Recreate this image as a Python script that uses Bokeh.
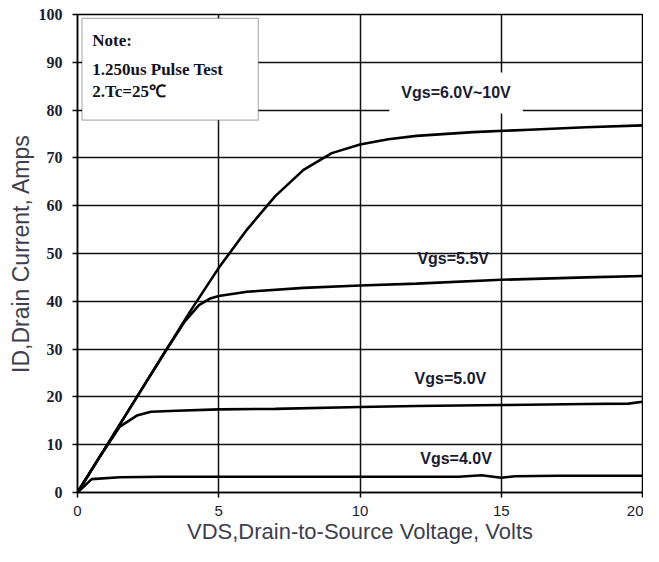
from bokeh.plotting import figure
from bokeh.models import Label, FixedTicker, BoxAnnotation
from bokeh.embed import file_html
from bokeh.resources import INLINE

# ---- data ----
vds_hi = [0, 1, 2, 3, 4, 5, 6, 7, 8, 9, 10, 11, 12, 14, 16, 18, 20]
id_hi = [0, 9.5, 19, 28.5, 38, 47, 55, 62, 67.5, 71, 72.8, 73.9, 74.6, 75.4, 75.9, 76.4, 76.8]

vds_55 = [0, 1, 2, 3, 3.8, 4.3, 4.7, 5, 6, 8, 10, 12, 15, 18, 20]
id_55 = [0, 9.5, 19, 28.5, 35.8, 39.2, 40.6, 41.1, 42, 42.8, 43.3, 43.7, 44.5, 45, 45.3]

vds_50 = [0, 0.8, 1.5, 2.1, 2.6, 3.5, 5, 7, 10, 12, 15, 18, 19.5, 20]
id_50 = [0, 7.6, 13.8, 16.1, 16.9, 17.1, 17.4, 17.5, 17.9, 18.1, 18.3, 18.5, 18.6, 19]

vds_40 = [0, 0.5, 1.5, 3, 5, 10, 13.5, 14.3, 15, 15.5, 17, 20]
id_40 = [0, 2.8, 3.2, 3.3, 3.3, 3.3, 3.3, 3.6, 3.1, 3.4, 3.5, 3.5]

curve_x = [vds_hi, vds_55, vds_50, vds_40]
curve_y = [id_hi, id_55, id_50, id_40]

curve_labels = ["Vgs=6.0V~10V", "Vgs=5.5V", "Vgs=5.0V", "Vgs=4.0V"]
label_x = [13.4, 13.3, 13.2, 13.4]
label_y = [83.6, 49.0, 23.9, 7.1]

x_ticks = [0, 5, 10, 15, 20]
y_ticks = [0, 10, 20, 30, 40, 50, 60, 70, 80, 90, 100]

note_lines = ["Note:", "1.250us Pulse Test", "2.Tc=25\u2103"]
note_y = [94.5, 88.5, 83.9]

# ---- figure ----
p = figure(width=643, height=546, x_range=(0, 20), y_range=(0, 100),
           output_backend="svg", toolbar_location=None,
           min_border_left=77, min_border_right=1, min_border_top=14, min_border_bottom=50)
p.outline_line_color = "black"
p.outline_line_width = 1.5

p.xaxis.ticker = FixedTicker(ticks=x_ticks)
p.yaxis.ticker = FixedTicker(ticks=y_ticks)
p.xgrid.ticker = FixedTicker(ticks=x_ticks)
p.ygrid.ticker = FixedTicker(ticks=y_ticks)
for g in (p.xgrid, p.ygrid):
    g.grid_line_color = "#111111"
    g.grid_line_width = 1.5
    g.grid_line_alpha = 1.0

for ax in (p.xaxis, p.yaxis):
    ax.axis_line_color = "black"
    ax.axis_line_width = 1.5
    ax.major_tick_line_color = "black"
    ax.major_tick_line_width = 1.5
    ax.major_tick_out = 5
    ax.major_tick_in = 0
    ax.minor_tick_line_color = None
    ax.axis_label_text_font = "Liberation Sans"
    ax.axis_label_text_font_style = "normal"
    ax.axis_label_text_color = "#3e3e4e"

p.xaxis.axis_label = "VDS,Drain-to-Source Voltage, Volts"
p.yaxis.axis_label = "ID,Drain Current, Amps"
p.xaxis.axis_label_text_font_size = "22px"
p.yaxis.axis_label_text_font_size = "23px"
p.xaxis.major_label_text_font = "Liberation Sans"
p.xaxis.major_label_text_font_size = "15px"
p.xaxis.major_label_text_color = "#1c1c30"
p.xaxis.major_label_standoff = 8
p.xaxis.axis_label_standoff = 0
p.yaxis.major_label_text_font = "Liberation Serif"
p.yaxis.major_label_text_font_style = "bold"
p.yaxis.major_label_text_font_size = "16px"
p.yaxis.major_label_text_color = "#1c1c30"
p.yaxis.major_label_standoff = 10
p.yaxis.axis_label_standoff = 2

# note box
p.add_layout(BoxAnnotation(left=0.16, right=6.4, bottom=77.9, top=99.2,
                           fill_color="white", fill_alpha=1.0,
                           line_color="black", line_width=1.2, level="annotation"))
for t, yy in zip(note_lines, note_y):
    p.add_layout(Label(x=0.52, y=yy, text=t, text_font="Liberation Serif",
                       text_font_style="bold", text_font_size="17px",
                       text_color="#111122", text_baseline="middle", level="overlay"))

# curves
for xs, ys in zip(curve_x, curve_y):
    p.line(xs, ys, line_color="black", line_width=2.6)

# curve labels
for i, (t, xx, yy) in enumerate(zip(curve_labels, label_x, label_y)):
    lab = Label(x=xx, y=yy, text=t, text_font="Liberation Sans",
                text_font_style="bold", text_font_size="16px",
                text_color="#1a1a30", text_align="center", text_baseline="middle")
    if i == 0:
        lab.background_fill_color = "white"
        lab.background_fill_alpha = 1.0
        lab.padding = 12
    p.add_layout(lab)

open("out.html", "w").write(file_html(p, INLINE))
